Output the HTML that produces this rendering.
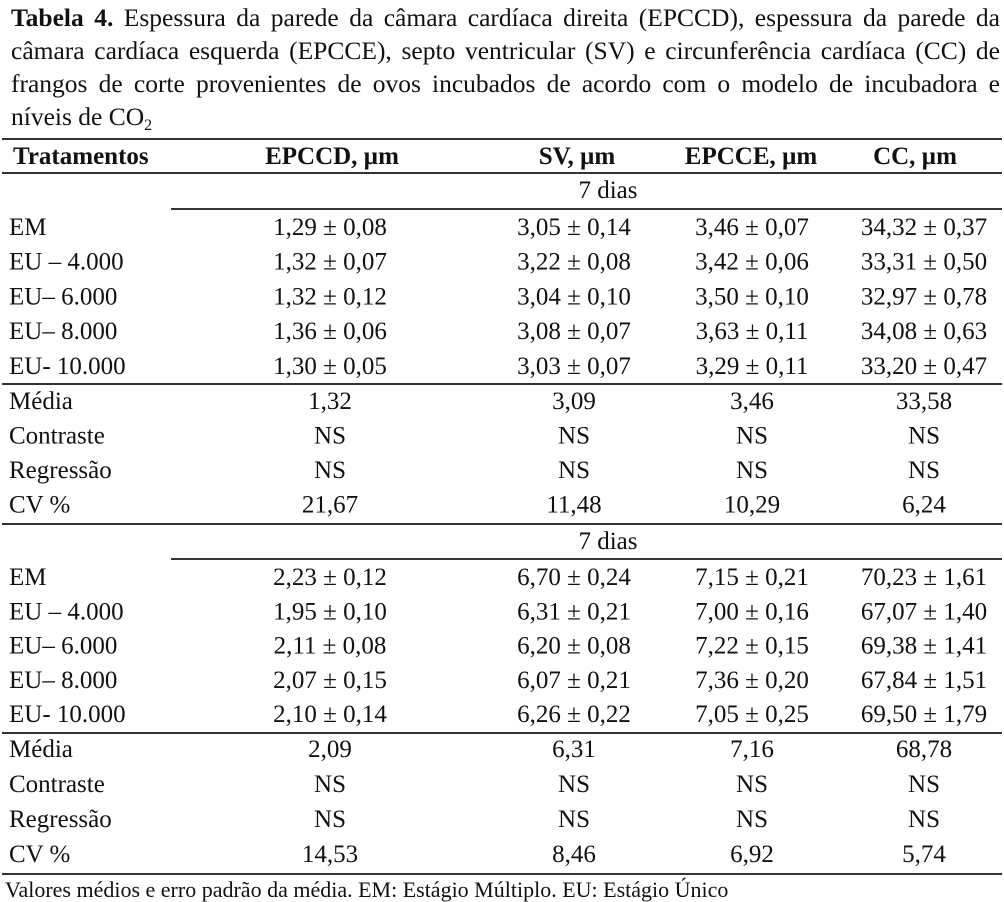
<!DOCTYPE html>
<html>
<head>
<meta charset="utf-8">
<style>
  html, body { margin:0; padding:0; background:#fff; }
  body { width:1004px; height:902px; position:relative; overflow:hidden; }
  .title { position:absolute; left:11px; width:989px; font-family:"Liberation Serif", serif; font-size:25.5px; line-height:33px; color:#111; white-space:nowrap; }
  .j { text-align:justify; text-align-last:justify; white-space:normal; height:33px; overflow:hidden; }
  .sub { font-size:16px; position:relative; top:5px; }
  svg { position:absolute; left:0; top:0; }
  svg text { font-family:"Liberation Serif", serif; font-size:25px; fill:#111; }
  .b { font-weight:bold; }
  .fn { font-size:22px; }
</style>
</head>
<body>
<div class="title j" style="top:1px;"><b>Tabela 4.</b> Espessura da parede da câmara cardíaca direita (EPCCD), espessura da parede da</div>
<div class="title j" style="top:34px;">câmara cardíaca esquerda (EPCCE), septo ventricular (SV) e circunferência cardíaca (CC) de</div>
<div class="title j" style="top:67px;">frangos de corte provenientes de ovos incubados de acordo com o modelo de incubadora e</div>
<div class="title" style="top:100px;">níveis de CO<span class="sub">2</span></div>

<svg width="1004" height="902" viewBox="0 0 1004 902">
  <g fill="#333">
    <rect x="2" y="138" width="1000" height="2"/>
    <rect x="2" y="172" width="1000" height="2"/>
    <rect x="171" y="208" width="831" height="2"/>
    <rect x="2" y="383" width="1000" height="2"/>
    <rect x="2" y="523" width="1000" height="2"/>
    <rect x="171" y="558" width="831" height="2"/>
    <rect x="2" y="732" width="1000" height="2"/>
    <rect x="2" y="873" width="1000" height="2"/>
  </g>

  <!-- header -->
  <text class="b" x="13" y="164">Tratamentos</text>
  <text class="b" x="332" y="164" text-anchor="middle">EPCCD, µm</text>
  <text class="b" x="577" y="164" text-anchor="middle">SV, µm</text>
  <text class="b" x="751" y="164" text-anchor="middle">EPCCE, µm</text>
  <text class="b" x="915" y="164" text-anchor="middle">CC, µm</text>

  <!-- block 1 -->
  <text x="608" y="198" text-anchor="middle">7 dias</text>

  <text x="9" y="235">EM</text>
  <text x="330" y="235" text-anchor="middle">1,29 ± 0,08</text>
  <text x="574" y="235" text-anchor="middle">3,05 ± 0,14</text>
  <text x="752" y="235" text-anchor="middle">3,46 ± 0,07</text>
  <text x="924" y="235" text-anchor="middle">34,32 ± 0,37</text>

  <text x="9" y="269.7">EU – 4.000</text>
  <text x="330" y="269.7" text-anchor="middle">1,32 ± 0,07</text>
  <text x="574" y="269.7" text-anchor="middle">3,22 ± 0,08</text>
  <text x="752" y="269.7" text-anchor="middle">3,42 ± 0,06</text>
  <text x="924" y="269.7" text-anchor="middle">33,31 ± 0,50</text>

  <text x="9" y="304.4">EU– 6.000</text>
  <text x="330" y="304.4" text-anchor="middle">1,32 ± 0,12</text>
  <text x="574" y="304.4" text-anchor="middle">3,04 ± 0,10</text>
  <text x="752" y="304.4" text-anchor="middle">3,50 ± 0,10</text>
  <text x="924" y="304.4" text-anchor="middle">32,97 ± 0,78</text>

  <text x="9" y="339.1">EU– 8.000</text>
  <text x="330" y="339.1" text-anchor="middle">1,36 ± 0,06</text>
  <text x="574" y="339.1" text-anchor="middle">3,08 ± 0,07</text>
  <text x="752" y="339.1" text-anchor="middle">3,63 ± 0,11</text>
  <text x="924" y="339.1" text-anchor="middle">34,08 ± 0,63</text>

  <text x="9" y="373.8">EU- 10.000</text>
  <text x="330" y="373.8" text-anchor="middle">1,30 ± 0,05</text>
  <text x="574" y="373.8" text-anchor="middle">3,03 ± 0,07</text>
  <text x="752" y="373.8" text-anchor="middle">3,29 ± 0,11</text>
  <text x="924" y="373.8" text-anchor="middle">33,20 ± 0,47</text>

  <text x="9" y="409">Média</text>
  <text x="330" y="409" text-anchor="middle">1,32</text>
  <text x="574" y="409" text-anchor="middle">3,09</text>
  <text x="752" y="409" text-anchor="middle">3,46</text>
  <text x="924" y="409" text-anchor="middle">33,58</text>

  <text x="9" y="443.5">Contraste</text>
  <text x="330" y="443.5" text-anchor="middle">NS</text>
  <text x="574" y="443.5" text-anchor="middle">NS</text>
  <text x="752" y="443.5" text-anchor="middle">NS</text>
  <text x="924" y="443.5" text-anchor="middle">NS</text>

  <text x="9" y="478">Regressão</text>
  <text x="330" y="478" text-anchor="middle">NS</text>
  <text x="574" y="478" text-anchor="middle">NS</text>
  <text x="752" y="478" text-anchor="middle">NS</text>
  <text x="924" y="478" text-anchor="middle">NS</text>

  <text x="9" y="512.5">CV %</text>
  <text x="330" y="512.5" text-anchor="middle">21,67</text>
  <text x="574" y="512.5" text-anchor="middle">11,48</text>
  <text x="752" y="512.5" text-anchor="middle">10,29</text>
  <text x="924" y="512.5" text-anchor="middle">6,24</text>

  <!-- block 2 -->
  <text x="608" y="549" text-anchor="middle">7 dias</text>

  <text x="9" y="585">EM</text>
  <text x="330" y="585" text-anchor="middle">2,23 ± 0,12</text>
  <text x="574" y="585" text-anchor="middle">6,70 ± 0,24</text>
  <text x="752" y="585" text-anchor="middle">7,15 ± 0,21</text>
  <text x="924" y="585" text-anchor="middle">70,23 ± 1,61</text>

  <text x="9" y="619.3">EU – 4.000</text>
  <text x="330" y="619.3" text-anchor="middle">1,95 ± 0,10</text>
  <text x="574" y="619.3" text-anchor="middle">6,31 ± 0,21</text>
  <text x="752" y="619.3" text-anchor="middle">7,00 ± 0,16</text>
  <text x="924" y="619.3" text-anchor="middle">67,07 ± 1,40</text>

  <text x="9" y="653.5">EU– 6.000</text>
  <text x="330" y="653.5" text-anchor="middle">2,11 ± 0,08</text>
  <text x="574" y="653.5" text-anchor="middle">6,20 ± 0,08</text>
  <text x="752" y="653.5" text-anchor="middle">7,22 ± 0,15</text>
  <text x="924" y="653.5" text-anchor="middle">69,38 ± 1,41</text>

  <text x="9" y="687.8">EU– 8.000</text>
  <text x="330" y="687.8" text-anchor="middle">2,07 ± 0,15</text>
  <text x="574" y="687.8" text-anchor="middle">6,07 ± 0,21</text>
  <text x="752" y="687.8" text-anchor="middle">7,36 ± 0,20</text>
  <text x="924" y="687.8" text-anchor="middle">67,84 ± 1,51</text>

  <text x="9" y="722">EU- 10.000</text>
  <text x="330" y="722" text-anchor="middle">2,10 ± 0,14</text>
  <text x="574" y="722" text-anchor="middle">6,26 ± 0,22</text>
  <text x="752" y="722" text-anchor="middle">7,05 ± 0,25</text>
  <text x="924" y="722" text-anchor="middle">69,50 ± 1,79</text>

  <text x="9" y="757">Média</text>
  <text x="330" y="757" text-anchor="middle">2,09</text>
  <text x="574" y="757" text-anchor="middle">6,31</text>
  <text x="752" y="757" text-anchor="middle">7,16</text>
  <text x="924" y="757" text-anchor="middle">68,78</text>

  <text x="9" y="792">Contraste</text>
  <text x="330" y="792" text-anchor="middle">NS</text>
  <text x="574" y="792" text-anchor="middle">NS</text>
  <text x="752" y="792" text-anchor="middle">NS</text>
  <text x="924" y="792" text-anchor="middle">NS</text>

  <text x="9" y="827">Regressão</text>
  <text x="330" y="827" text-anchor="middle">NS</text>
  <text x="574" y="827" text-anchor="middle">NS</text>
  <text x="752" y="827" text-anchor="middle">NS</text>
  <text x="924" y="827" text-anchor="middle">NS</text>

  <text x="9" y="862">CV %</text>
  <text x="330" y="862" text-anchor="middle">14,53</text>
  <text x="574" y="862" text-anchor="middle">8,46</text>
  <text x="752" y="862" text-anchor="middle">6,92</text>
  <text x="924" y="862" text-anchor="middle">5,74</text>

  <text class="fn" x="5" y="897">Valores médios e erro padrão da média. EM: Estágio Múltiplo. EU: Estágio Único</text>
</svg>
</body>
</html>
